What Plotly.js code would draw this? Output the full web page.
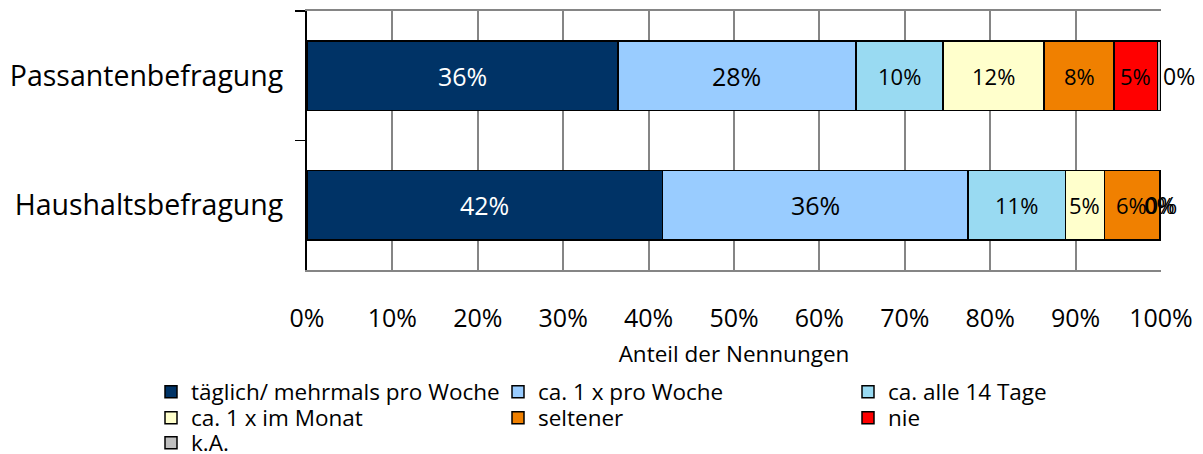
<!DOCTYPE html>
<html>
<head>
<meta charset="utf-8">
<script src="https://cdn.plot.ly/plotly-3.0.1.min.js"></script>
<style>html,body{margin:0;padding:0;background:#fff;}#chart{width:1203px;height:454px;}</style>
</head>
<body>
<div id="chart"></div>
<script>
// ---- data (percent shares) ----
const categories = ['Passantenbefragung', 'Haushaltsbefragung'];
const seriesNames = ['täglich/ mehrmals pro Woche', 'ca. 1 x pro Woche', 'ca. alle 14 Tage',
                     'ca. 1 x im Monat', 'seltener', 'nie', 'k.A.'];
const taeglich = [36.4, 41.6];
const proWoche = [27.9, 35.8];
const alle14Tage = [10.2, 11.4];
const imMonat = [11.8, 4.6];
const seltener = [8.2, 6.4];
const nie = [5.1, 0.1];
const keineAngabe = [0.4, 0.1];
const xTickVals = [0, 10, 20, 30, 40, 50, 60, 70, 80, 90, 100];

// ---- styles ----
const colors = ['#003366', '#99CCFF', '#99DAF2', '#FFFFCC', '#F08000', '#FF0000', '#C0C0C0'];
const labelColors = ['#ffffff', '#000', '#000', '#000', '#000', '#000', '#000'];
const labelSizes = [25, 25, 22, 22, 22, 22, 23];
const FONT = '"Open Sans", Lato, sans-serif';
const W = 1203, H = 454;

const seriesValues = [taeglich, proWoche, alle14Tage, imMonat, seltener, nie, keineAngabe];
// legend grid: 3 columns, entries filled row by row
const legendColsPx = [151, 498, 848];
const legendRowsPx = [392, 418, 443];
const legendIds = seriesValues.map((_, i) => i === 0 ? 'legend' : 'legend' + (i + 1));

const traces = seriesValues.map((vals, i) => ({
  type: 'bar',
  orientation: 'h',
  name: seriesNames[i],
  y: categories,
  x: vals,
  legend: legendIds[i],
  marker: {color: colors[i], line: {color: '#000', width: 1.5}},
  hoverinfo: 'skip'
}));

// value labels, positioned through the data axes
const annotations = [];
categories.forEach((cat, j) => {
  let cum = 0;
  seriesValues.forEach((vals, i) => {
    const v = vals[j];
    const last = i === seriesValues.length - 1;
    const prevBig = i > 0 && seriesValues[i - 1][j] >= 1;
    const outside = last && prevBig;
    annotations.push({
      x: outside ? cum + v : cum + v / 2,
      y: cat,
      xref: 'x', yref: 'y',
      text: Math.round(v) + '%',
      showarrow: false,
      xanchor: outside ? 'left' : 'center',
      font: {family: FONT, size: labelSizes[i], color: labelColors[i]}
    });
    cum += v;
  });
});

const layout = {
  width: W, height: H,
  margin: {l: 307, r: 42, t: 11, b: 184},
  paper_bgcolor: '#fff', plot_bgcolor: '#fff',
  barmode: 'stack',
  bargap: 0.46,
  font: {family: FONT, color: '#000'},
  showlegend: true,
  xaxis: {
    range: [0, 100],
    tickvals: xTickVals,
    ticktext: xTickVals.map(v => v + '%'),
    tickfont: {size: 25, color: '#000'},
    ticks: '',
    ticklabelstandoff: 25,
    showgrid: true, gridcolor: '#858585', gridwidth: 2,
    zeroline: false,
    showline: true, linecolor: '#858585', linewidth: 2, mirror: true,
    title: {text: 'Anteil der Nennungen', font: {size: 22.5, color: '#000'}, standoff: 13},
    automargin: false,
    fixedrange: true
  },
  yaxis: {
    type: 'category',
    categoryarray: categories,
    autorange: 'reversed',
    tickfont: {size: 28.5, color: '#000'},
    ticks: 'outside', ticklen: 10, tickwidth: 1.5, tickcolor: '#000',
    tickson: 'boundaries',
    ticklabelstandoff: 16,
    showgrid: false,
    showline: true, linecolor: '#000', linewidth: 2,
    zeroline: false,
    automargin: false,
    fixedrange: true
  },
  annotations: annotations
};

legendIds.forEach((id, i) => {
  layout[id] = {
    orientation: 'h',
    xref: 'container', yref: 'container',
    x: legendColsPx[i % 3] / W, xanchor: 'left',
    y: 1 - legendRowsPx[Math.floor(i / 3)] / H, yanchor: 'middle',
    itemwidth: 30,
    font: {family: FONT, size: 22.5, color: '#000'},
    bgcolor: 'rgba(0,0,0,0)'
  };
});

Plotly.newPlot('chart', traces, layout, {displayModeBar: false, staticPlot: true});
</script>
</body>
</html>
